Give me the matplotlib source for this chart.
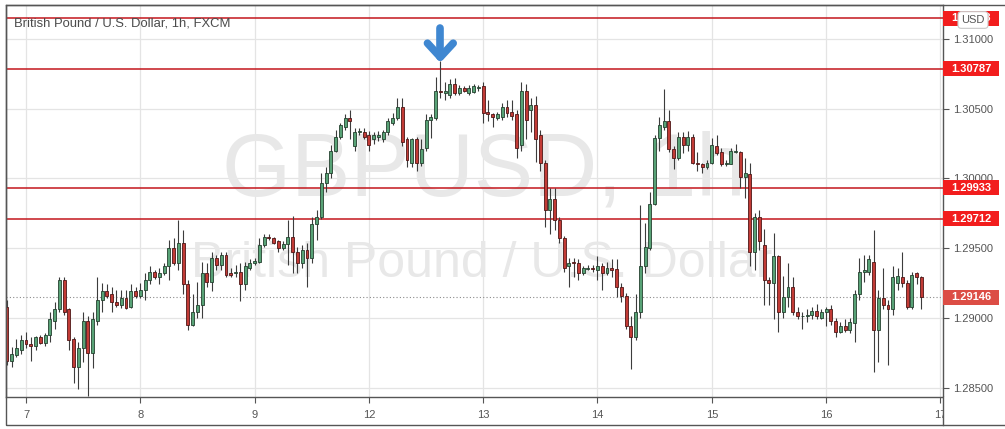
import matplotlib.pyplot as plt
from matplotlib.patches import Rectangle
import numpy as np

# hourly GBP/USD candles
opens = [
    1.2908, 1.2869, 1.2873, 1.2877, 1.2884, 1.2881, 1.2880, 1.2886, 1.2882, 1.2888,
    1.2898, 1.2906, 1.2927, 1.2906, 1.2885, 1.2865, 1.2878, 1.2898, 1.2875, 1.2898,
    1.2913, 1.2919, 1.2917, 1.2911, 1.2909, 1.2914, 1.2908, 1.2919, 1.2916, 1.2920,
    1.2927, 1.2933, 1.2929, 1.2932, 1.2937, 1.2950, 1.2939, 1.2954, 1.2924, 1.2895,
    1.2904, 1.2909, 1.2932, 1.2926, 1.2943, 1.2938, 1.2945, 1.2932, 1.2932, 1.2933,
    1.2924, 1.2936, 1.2939, 1.2940, 1.2952, 1.2958, 1.2957, 1.2955, 1.2950, 1.2953,
    1.2958, 1.2947, 1.2939, 1.2949, 1.2943, 1.2967, 1.2972, 1.2997, 1.3004, 1.3020,
    1.3030, 1.3037, 1.3043, 1.3023, 1.3033, 1.3033, 1.3031, 1.3028, 1.3030, 1.3028,
    1.3033, 1.3040, 1.3043, 1.3051, 1.3028, 1.3011, 1.3028, 1.3011, 1.3022, 1.3042,
    1.3043, 1.3063, 1.3061, 1.3060, 1.3068, 1.3061, 1.3065, 1.3061, 1.3062, 1.3065,
    1.3066, 1.3048, 1.3046, 1.3043, 1.3044, 1.3051, 1.3048, 1.3046, 1.3024, 1.3063,
    1.3049, 1.3053, 1.3031, 1.3011, 1.2977, 1.2985, 1.2970, 1.2957, 1.2937, 1.2940,
    1.2939, 1.2932, 1.2935, 1.2936, 1.2934, 1.2937, 1.2932, 1.2936, 1.2935, 1.2922,
    1.2916, 1.2894, 1.2886, 1.2904, 1.2937, 1.2950, 1.2982, 1.3029, 1.3037, 1.3041,
    1.3021, 1.3015, 1.3030, 1.3024, 1.3030, 1.3011, 1.3010, 1.3008, 1.3011, 1.3023,
    1.3019, 1.3010, 1.3010, 1.3019, 1.3019, 1.3001, 1.3003, 1.2947, 1.2972, 1.2952,
    1.2927, 1.2925, 1.2944, 1.2904, 1.2915, 1.2922, 1.2904, 1.2901, 1.2901, 1.2902,
    1.2905, 1.2900, 1.2904, 1.2906, 1.2898, 1.2890, 1.2894, 1.2891, 1.2896, 1.2917,
    1.2933, 1.2933, 1.2940, 1.2891, 1.2914, 1.2909, 1.2906, 1.2925, 1.2929, 1.2925,
    1.2908, 1.2932, 1.2929,
]
highs = [
    1.2913, 1.2879, 1.2885, 1.2888, 1.2890, 1.2886, 1.2887, 1.2888, 1.2889, 1.2904,
    1.2911, 1.2929, 1.2929, 1.2907, 1.2886, 1.2883, 1.2904, 1.2901, 1.2904, 1.2929,
    1.2925, 1.2924, 1.2922, 1.2920, 1.2920, 1.2920, 1.2924, 1.2922, 1.2925, 1.2932,
    1.2937, 1.2934, 1.2936, 1.2939, 1.2956, 1.2957, 1.2970, 1.2963, 1.2927, 1.2917,
    1.2926, 1.2940, 1.2939, 1.2947, 1.2945, 1.2947, 1.2947, 1.2936, 1.2938, 1.2939,
    1.2940, 1.2942, 1.2943, 1.2957, 1.2960, 1.2960, 1.2958, 1.2956, 1.2955, 1.2970,
    1.2973, 1.2951, 1.2952, 1.2954, 1.2972, 1.2977, 1.3004, 1.3008, 1.3024, 1.3035,
    1.3040, 1.3046, 1.3049, 1.3036, 1.3036, 1.3036, 1.3034, 1.3033, 1.3034, 1.3035,
    1.3043, 1.3047, 1.3058, 1.3058, 1.3030, 1.3029, 1.3030, 1.3028, 1.3046, 1.3046,
    1.3073, 1.3084, 1.3069, 1.3071, 1.3072, 1.3067, 1.3066, 1.3067, 1.3068, 1.3067,
    1.3069, 1.3056, 1.3047, 1.3048, 1.3054, 1.3056, 1.3056, 1.3049, 1.3069, 1.3068,
    1.3058, 1.3059, 1.3035, 1.3013, 1.2993, 1.2993, 1.2972, 1.2959, 1.2943, 1.2943,
    1.2942, 1.2937, 1.2938, 1.2938, 1.2944, 1.2939, 1.2940, 1.2942, 1.2942, 1.2925,
    1.2918, 1.2901, 1.2917, 1.2981, 1.2968, 1.2990, 1.3031, 1.3044, 1.3064, 1.3049,
    1.3023, 1.3033, 1.3033, 1.3034, 1.3032, 1.3019, 1.3011, 1.3013, 1.3029, 1.3031,
    1.3022, 1.3013, 1.3022, 1.3025, 1.3020, 1.3015, 1.3011, 1.2975, 1.2977, 1.2964,
    1.2929, 1.2961, 1.2945, 1.2930, 1.2939, 1.2929, 1.2908, 1.2904, 1.2906, 1.2908,
    1.2910, 1.2906, 1.2908, 1.2909, 1.2900, 1.2897, 1.2899, 1.2900, 1.2920, 1.2943,
    1.2945, 1.2945, 1.2963, 1.2920, 1.2936, 1.2913, 1.2937, 1.2936, 1.2947, 1.2927,
    1.2933, 1.2933, 1.2930,
]
lows = [
    1.2866, 1.2865, 1.2872, 1.2874, 1.2878, 1.2869, 1.2877, 1.2881, 1.2880, 1.2883,
    1.2892, 1.2904, 1.2902, 1.2877, 1.2853, 1.2849, 1.2868, 1.2844, 1.2864, 1.2895,
    1.2904, 1.2914, 1.2904, 1.2908, 1.2907, 1.2906, 1.2907, 1.2914, 1.2914, 1.2913,
    1.2924, 1.2928, 1.2924, 1.2931, 1.2927, 1.2938, 1.2934, 1.2917, 1.2891, 1.2894,
    1.2900, 1.2900, 1.2922, 1.2919, 1.2934, 1.2934, 1.2929, 1.2929, 1.2929, 1.2912,
    1.2920, 1.2934, 1.2938, 1.2939, 1.2951, 1.2956, 1.2953, 1.2947, 1.2949, 1.2938,
    1.2932, 1.2932, 1.2936, 1.2922, 1.2939, 1.2956, 1.2971, 1.2990, 1.3000, 1.3019,
    1.3028, 1.3035, 1.3028, 1.3020, 1.3031, 1.3028, 1.3020, 1.3025, 1.3027, 1.3026,
    1.3031, 1.3038, 1.3042, 1.3023, 1.3008, 1.3008, 1.3005, 1.3009, 1.3020, 1.3029,
    1.3042, 1.3058, 1.3056, 1.3058, 1.3060, 1.3060, 1.3062, 1.3060, 1.3061, 1.3063,
    1.3040, 1.3041, 1.3037, 1.3042, 1.3042, 1.3044, 1.3042, 1.3015, 1.3020, 1.3028,
    1.3033, 1.3012, 1.3005, 1.2965, 1.2960, 1.2963, 1.2954, 1.2933, 1.2922, 1.2929,
    1.2927, 1.2931, 1.2934, 1.2933, 1.2927, 1.2920, 1.2931, 1.2929, 1.2915, 1.2911,
    1.2892, 1.2863, 1.2884, 1.2900, 1.2932, 1.2949, 1.2981, 1.3020, 1.3035, 1.3019,
    1.3007, 1.3013, 1.3018, 1.3020, 1.3010, 1.3005, 1.3004, 1.3007, 1.3010, 1.3017,
    1.3009, 1.3009, 1.3010, 1.3018, 1.2993, 1.2986, 1.2937, 1.2934, 1.2949, 1.2909,
    1.2909, 1.2899, 1.2890, 1.2900, 1.2908, 1.2902, 1.2899, 1.2892, 1.2897, 1.2899,
    1.2899, 1.2899, 1.2894, 1.2895, 1.2886, 1.2889, 1.2890, 1.2889, 1.2883, 1.2913,
    1.2926, 1.2931, 1.2861, 1.2868, 1.2906, 1.2866, 1.2902, 1.2920, 1.2922, 1.2906,
    1.2906, 1.2924, 1.2906,
]
closes = [
    1.2869, 1.2874, 1.2878, 1.2884, 1.2881, 1.2880, 1.2886, 1.2882, 1.2888, 1.2899,
    1.2906, 1.2927, 1.2904, 1.2884, 1.2865, 1.2878, 1.2898, 1.2875, 1.2899, 1.2913,
    1.2919, 1.2916, 1.2911, 1.2909, 1.2914, 1.2907, 1.2919, 1.2916, 1.2920, 1.2927,
    1.2933, 1.2929, 1.2932, 1.2937, 1.2950, 1.2939, 1.2954, 1.2924, 1.2895, 1.2904,
    1.2909, 1.2932, 1.2926, 1.2943, 1.2938, 1.2945, 1.2931, 1.2931, 1.2933, 1.2924,
    1.2937, 1.2939, 1.2941, 1.2952, 1.2958, 1.2957, 1.2954, 1.2950, 1.2953, 1.2958,
    1.2947, 1.2939, 1.2949, 1.2943, 1.2967, 1.2972, 1.2997, 1.3004, 1.3020, 1.3030,
    1.3038, 1.3043, 1.3041, 1.3033, 1.3034, 1.3030, 1.3024, 1.3031, 1.3031, 1.3033,
    1.3041, 1.3043, 1.3051, 1.3026, 1.3013, 1.3028, 1.3011, 1.3021, 1.3042, 1.3044,
    1.3063, 1.3062, 1.3063, 1.3068, 1.3061, 1.3065, 1.3063, 1.3065, 1.3066, 1.3065,
    1.3047, 1.3046, 1.3044, 1.3046, 1.3051, 1.3047, 1.3045, 1.3022, 1.3063, 1.3042,
    1.3053, 1.3028, 1.3011, 1.2977, 1.2985, 1.2970, 1.2957, 1.2936, 1.2939, 1.2939,
    1.2932, 1.2936, 1.2936, 1.2935, 1.2937, 1.2932, 1.2936, 1.2934, 1.2922, 1.2916,
    1.2894, 1.2886, 1.2904, 1.2937, 1.2951, 1.2982, 1.3029, 1.3038, 1.3041, 1.3021,
    1.3015, 1.3030, 1.3024, 1.3030, 1.3011, 1.3010, 1.3008, 1.3011, 1.3024, 1.3018,
    1.3010, 1.3011, 1.3020, 1.3020, 1.3001, 1.3004, 1.2947, 1.2972, 1.2955, 1.2927,
    1.2925, 1.2944, 1.2904, 1.2915, 1.2922, 1.2904, 1.2901, 1.2901, 1.2902, 1.2905,
    1.2901, 1.2904, 1.2906, 1.2898, 1.2890, 1.2894, 1.2891, 1.2897, 1.2917, 1.2933,
    1.2934, 1.2942, 1.2891, 1.2914, 1.2909, 1.2906, 1.2929, 1.2930, 1.2925, 1.2908,
    1.2931, 1.2929, 1.29146,
]

day_labels = ['7', '8', '9', '12', '13', '14', '15', '16', '17']
day_bars = [4, 28, 52, 76, 100, 124, 148, 172, 196]   # bar index where each day starts
price_ticks = [1.285, 1.290, 1.295, 1.300, 1.305, 1.310]
levels = [1.31148, 1.30787, 1.29933, 1.29712]
last_price = 1.29146

plt.rcParams['font.family'] = ['Liberation Sans', 'DejaVu Sans']

W, H = 1005, 429
fig = plt.figure(figsize=(W / 100, H / 100), dpi=100)
ax = fig.add_axes([6 / W, 32 / H, 937 / W, 392 / H])
ax.set_xlim(-0.2, 196.55)
ax.set_ylim(1.28432, 1.31244)

# grid
ax.vlines(day_bars, 1.28, 1.32, color='#e4e4e4', lw=0.9, zorder=0)
ax.hlines(price_ticks, -5, 200, color='#e4e4e4', lw=0.9, zorder=0)

# watermark
ax.text(0.51, 0.515, 'GBPUSD, 1h', transform=ax.transAxes, ha='center', va='baseline',
        fontsize=64, color='#e8e8e8', zorder=0)
ax.text(0.508, 0.306, 'British Pound / U.S. Dollar', transform=ax.transAxes, ha='center',
        va='baseline', fontsize=36, color='#e8e8e8', zorder=0)

# title
ax.text(0.0085, 0.944, 'British Pound / U.S. Dollar, 1h, FXCM', transform=ax.transAxes,
        fontsize=9.4, color='#4b4b4b', va='baseline', zorder=6)

# candles
o, h, l, c = (np.array(v) for v in (opens, highs, lows, closes))
x = np.arange(len(o))
up = c >= o
ax.vlines(x, l, h, color='#3c3c3c', lw=0.8, zorder=3)
body_low = np.minimum(o, c)
body_h = np.maximum(np.abs(c - o), 0.00003)
ax.bar(x, body_h, bottom=body_low, width=0.62,
       color=np.where(up, '#58a276', '#c23b36'),
       edgecolor=np.where(up, '#24402f', '#4e1616'), linewidth=0.6, zorder=4)

# support / resistance lines
for lv in levels:
    ax.axhline(lv, color='#c3161c', lw=1.1, zorder=2)

# last price dotted line
ax.axhline(last_price, color='#8a8a8a', lw=0.8, ls=(0, (1, 2)), zorder=2)

# blue arrow over the top candle
top = int(np.argmax(h))
tip = h[top] + 0.0003
arrow_kw = dict(color='#3f87d1', lw=5.5, solid_capstyle='round', solid_joinstyle='round',
                zorder=7, clip_on=False)
ax.plot([top, top], [tip, tip + 0.0021], **arrow_kw)
ax.plot([top - 2.7, top, top + 2.7], [tip + 0.001, tip, tip + 0.001], **arrow_kw)

# axes styling
for s in ax.spines.values():
    s.set_color('#555555')
    s.set_linewidth(1)
ax.yaxis.tick_right()
ax.set_yticks(price_ticks, [f'{p:.5f}' for p in price_ticks])
ax.set_xticks(day_bars, day_labels)
ax.tick_params(axis='y', length=4, color='#555555', labelcolor='#555555', labelsize=8, pad=3)
ax.tick_params(axis='x', length=4, color='#555555', labelcolor='#555555', labelsize=8, pad=5)

# price labels on the right scale
ytr = ax.get_yaxis_transform()
box_w = 56 / 937
box_h = 0.00108
for lv, fc in [(v, '#f21d1d') for v in levels] + [(last_price, '#dc4d45')]:
    ax.add_patch(Rectangle((1.0, lv - box_h / 2), box_w, box_h, transform=ytr,
                           fc=fc, ec='none', clip_on=False, zorder=10))
    ax.text(1.0 + box_w / 2, lv, f'{lv:.5f}', transform=ytr, ha='center', va='center',
            color='white', fontsize=8, fontweight='bold', clip_on=False, zorder=11)

# cover the clipped "17" under the price scale, outer frame
fig.add_artist(Rectangle((943.5 / W, 4 / H), 70 / W, 28 / H, transform=fig.transFigure,
                         fc='white', ec='none', zorder=5))
fig.add_artist(plt.Line2D([943 / W, 943 / W], [4 / H, 32 / H], transform=fig.transFigure,
                          color='#555555', lw=1, zorder=6))
fig.add_artist(Rectangle((5.5 / W, 4.5 / H), 1.2, 419.5 / H, transform=fig.transFigure,
                         fill=False, ec='#555555', lw=1, zorder=6))

fig.text(973 / W, 1 - 20 / H, 'USD', ha='center', va='center', fontsize=8, color='#555555',
         zorder=12, bbox=dict(boxstyle='round,pad=0.3', fc='white', ec='#c8c8c8', lw=0.8))

fig.savefig('out.png', dpi=100)
